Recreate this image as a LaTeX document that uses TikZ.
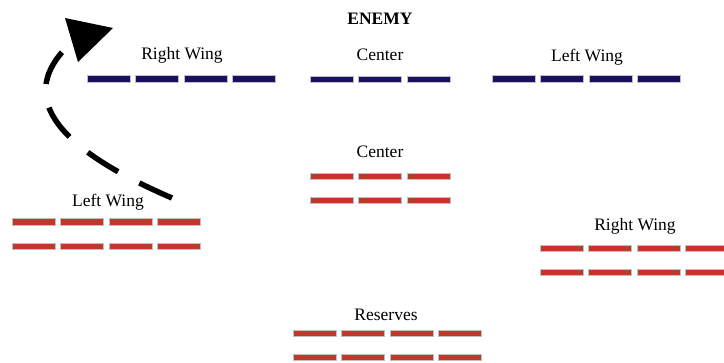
\documentclass[tikz,border=0pt]{standalone}
\usepackage{fontspec}
\setmainfont{Liberation Serif}
\definecolor{enemyblue}{RGB}{26,16,96}
\definecolor{ownred}{RGB}{192,56,42}
\tikzset{
  lbl/.style={inner sep=0pt, font=\fontsize{17.5}{19}\selectfont},
  blk/.style={draw=black!25, line width=0.4pt},
}
% one row of units: left x, centre y, count, colour
\newcommand{\unitrow}[4]{%
  \foreach \k in {1,...,#3}
    \filldraw[blk, fill=#4] ({#1+(\k-1)*48.5},{#2-3.3}) rectangle ++(43,6.6);
}
\begin{document}
\begin{tikzpicture}[x=1pt,y=-1pt]
	\useasboundingbox (0,0) rectangle (724,362);
	% enemy line
	\node[lbl, font=\fontsize{17.5}{19}\selectfont\bfseries] (enemy) at (380,19) {ENEMY};
	\node[lbl] (ewright) at (182,55) {Right Wing};
	\node[lbl] (ecenter) at (380,55) {Center};
	\node[lbl] (ewleft) at (587,57) {Left Wing};
	\unitrow{87}{78.5}{4}{enemyblue}
	\unitrow{310}{79}{3}{enemyblue}
	\unitrow{492}{78.5}{4}{enemyblue}
	% own army
	\node[lbl] (center) at (380,152) {Center};
	\unitrow{310}{176}{3}{ownred}
	\unitrow{310}{200}{3}{ownred}
	\node[lbl] (wleft) at (108,202) {Left Wing};
	\unitrow{12}{221.5}{4}{ownred}
	\unitrow{12}{246}{4}{ownred}
	\node[lbl] (wright) at (635,226) {Right Wing};
	\unitrow{540}{248}{4}{ownred}
	\unitrow{540}{272}{4}{ownred}
	\node[lbl] (reserves) at (386,315) {Reserves};
	\unitrow{293}{333}{4}{ownred}
	\unitrow{293}{357}{4}{ownred}
	% flanking move
	\draw[line width=5.5pt, dash pattern=on 36pt off 24pt] (172,198) .. controls (60,150) and (18,100) .. (64,50);
	\fill (65,18) -- (113,28) -- (78,62) -- cycle;
\end{tikzpicture}
\end{document}
